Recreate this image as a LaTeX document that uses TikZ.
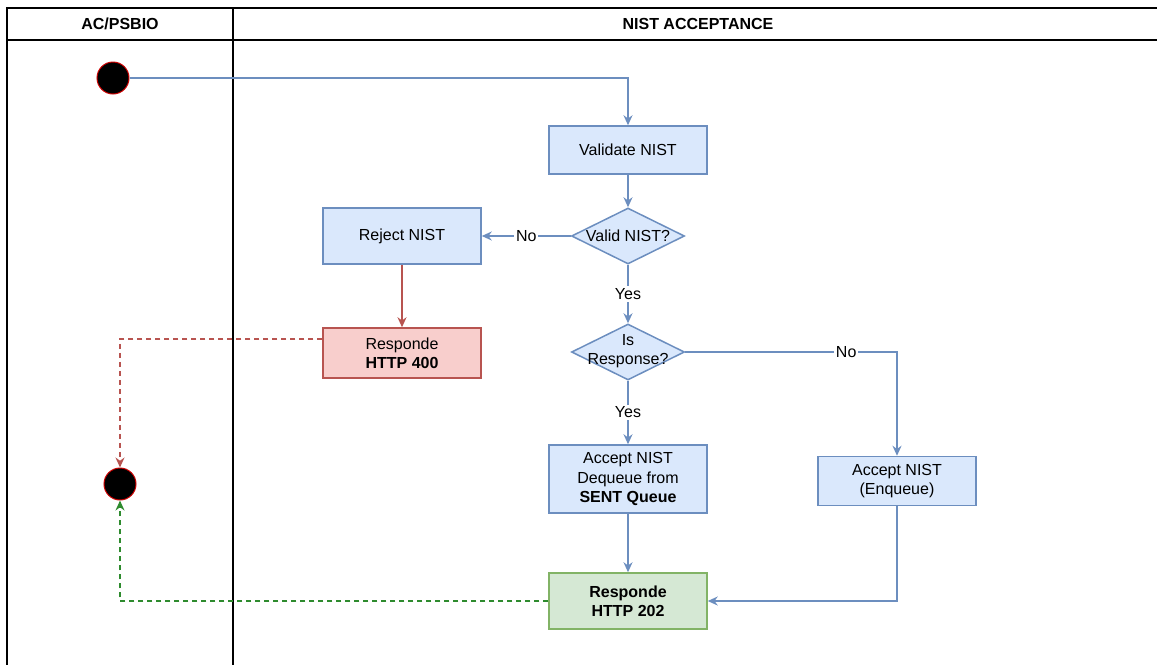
\documentclass[tikz,border=0pt]{standalone}
\usepackage{fontspec}
\setmainfont{Liberation Sans}
\usetikzlibrary{shapes.geometric,arrows.meta}

\definecolor{blfill}{HTML}{DAE8FC}
\definecolor{bldraw}{HTML}{6C8EBF}
\definecolor{rdfill}{HTML}{F8CECC}
\definecolor{rddraw}{HTML}{B85450}
\definecolor{grfill}{HTML}{D5E8D4}
\definecolor{grdraw}{HTML}{82B366}
\definecolor{grdash}{HTML}{2E8B2E}

% text of a decision, kept out of the size of the diamond
\newcommand{\dtxt}[2][-3pt]{\smash{\makebox[0pt]{\raisebox{#1}{\begin{tabular}{@{}c@{}}#2\end{tabular}}}}}

\tikzset{
  proc/.style={draw=bldraw,fill=blfill,line width=0.75pt,align=center,
    minimum width=79pt,inner sep=0pt},
  decision/.style={diamond,draw=bldraw,fill=blfill,line width=0.75pt,
    minimum width=56.5pt,minimum height=28pt,inner sep=0pt},
  rejbox/.style={proc,draw=rddraw,fill=rdfill},
  okbox/.style={proc,draw=grdraw,fill=grfill},
  dot/.style={circle,fill=black,draw=red!80!black,line width=0.5pt,
    minimum size=16pt,inner sep=0pt},
  flow/.style={draw=bldraw,line width=0.75pt,-{Stealth[length=5pt,width=4.5pt]}},
  rflow/.style={flow,draw=rddraw},
  gflow/.style={flow,draw=grdash,dash pattern=on 2.5pt off 2pt},
  lbl/.style={fill=white,inner sep=1pt},
  lane/.style={font=\fontsize{8}{9.6}\selectfont\bfseries}
}

\begin{document}
\begin{tikzpicture}[x=0.5pt,y=-0.5pt,font=\fontsize{8}{9.6}\selectfont]
	\useasboundingbox (0,0) rectangle (1157,665);
	
	% swimlanes
	\draw[line width=1pt] (1157,8) -- (7,8) -- (7,665);
	\draw[line width=0.8pt] (7,40) -- (1157,40);
	\draw[line width=0.8pt] (233,8) -- (233,665);
	\node[lane] (laneA) at (120,24) {AC/PSBIO};
	\node[lane] (laneB) at (698,24) {NIST ACCEPTANCE};
	
	\node[dot] (start) at (113,78) {};
	\node[dot] (finish) at (120,484) {};
	
	\node[proc,minimum height=24pt] (validate) at (628,150) {Validate NIST};
	\node[decision] (valid) at (628,236) {\dtxt{Valid NIST?}};
	\node[proc,minimum height=28pt] (reject) at (402,236) {Reject NIST};
	\node[rejbox,minimum height=25pt] (resp400) at (402,353) {Responde\\\textbf{HTTP 400}};
	\node[decision] (isresp) at (628,352) {\dtxt[-1.5pt]{Is\\Response?}};
	\node[proc,minimum height=34pt] (dequeue) at (628,479) {Accept NIST\\Dequeue from\\\textbf{SENT Queue}};
	\node[proc,minimum height=24.5pt] (enqueue) at (897,481) {Accept NIST\\(Enqueue)};
	\node[okbox,minimum height=28pt] (resp202) at (628,601) {\textbf{Responde}\\\textbf{HTTP 202}};
	
	\draw[flow] (start) -| (validate);
	\draw[flow] (validate) -- (valid);
	\draw[flow] (valid) -- node[lbl]{No} (reject);
	\draw[rflow] (reject) -- (resp400);
	\draw[rflow,dash pattern=on 2.5pt off 2pt] ([yshift=7pt]resp400.west) -| (finish);
	\draw[flow] (valid) -- node[lbl]{Yes} (isresp);
	\draw[flow] (isresp) -| node[lbl,pos=0.38]{No} (enqueue);
	\draw[flow] (isresp) -- node[lbl]{Yes} (dequeue);
	\draw[flow] (dequeue) -- (resp202);
	\draw[flow] (enqueue) |- (resp202);
	\draw[gflow] (resp202) -| (finish);
\end{tikzpicture}
\end{document}
